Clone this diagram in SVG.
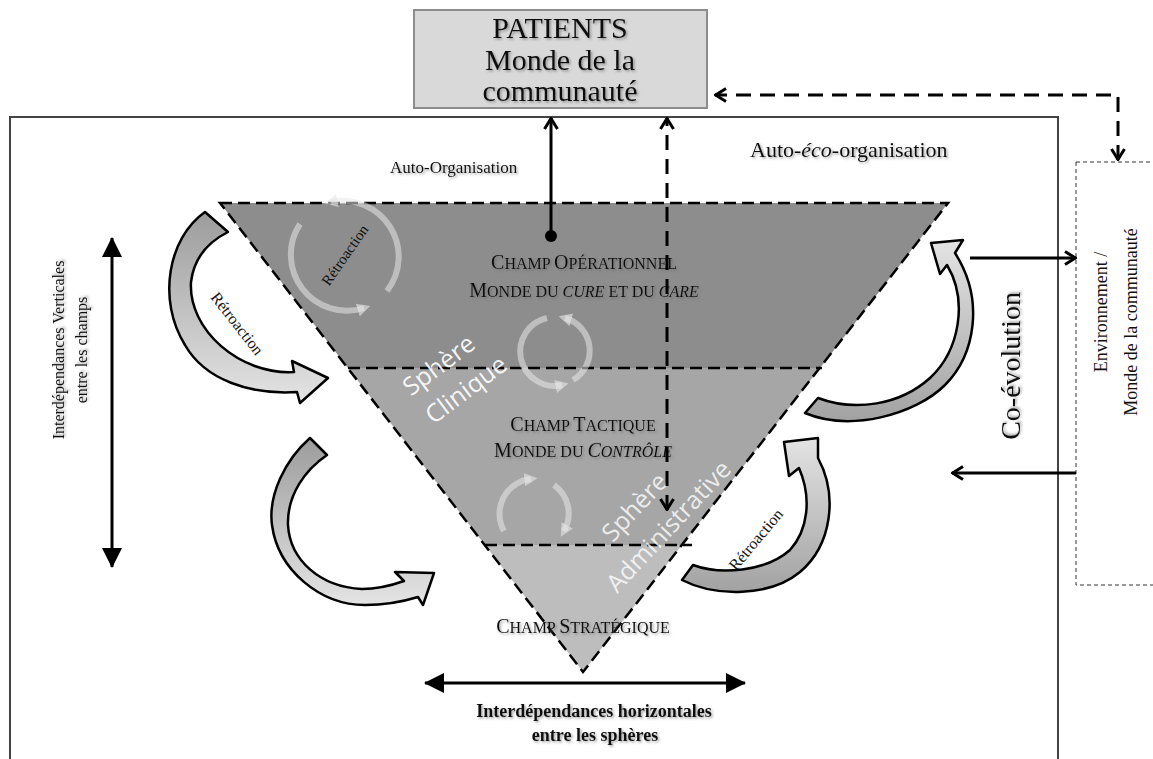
<svg xmlns="http://www.w3.org/2000/svg" width="1153" height="759" viewBox="0 0 1153 759">
<defs>
<style>
.s{font-family:"Liberation Serif","Times New Roman",serif;fill:#111}
.sans{font-family:"Open Sans","Noto Sans",sans-serif;fill:#fff}
.dash{fill:none;stroke:#000;stroke-width:2.5;stroke-dasharray:12 6}
.blk{stroke:#000;stroke-width:2.5;stroke-linejoin:round}
.cyc{fill:none;stroke:#e8e8e8;stroke-width:6;stroke-opacity:0.55;marker-end:url(#cyh)}
.con{fill:none;stroke:#000;stroke-width:3}
.cond{fill:none;stroke:#000;stroke-width:3;stroke-dasharray:15 9}
.sh{filter:url(#sh)}
</style>
<filter id="sh" x="-10%" y="-40%" width="130%" height="180%">
<feDropShadow dx="1.5" dy="1.5" stdDeviation="1" flood-color="#555" flood-opacity="0.55"/>
</filter>
<linearGradient id="gDown" x1="0" y1="0" x2="0" y2="1"><stop offset="0" stop-color="#9c9c9c"/><stop offset="1" stop-color="#e4e4e4"/></linearGradient>
<linearGradient id="gUp" x1="0" y1="1" x2="0" y2="0"><stop offset="0" stop-color="#a2a2a2"/><stop offset="1" stop-color="#e4e4e4"/></linearGradient>
<marker id="chev" viewBox="0 0 14 16" refX="13" refY="8" markerWidth="14" markerHeight="16" markerUnits="userSpaceOnUse" orient="auto-start-reverse">
<path d="M2,1.5 L12.5,8 L2,14.5" fill="none" stroke="#000" stroke-width="3" stroke-dasharray="none"/>
</marker>
<marker id="tri" viewBox="0 0 20 20" refX="19" refY="10" markerWidth="20" markerHeight="20" markerUnits="userSpaceOnUse" orient="auto-start-reverse">
<path d="M0,0 L20,10 L0,20 z" fill="#000"/>
</marker>
<marker id="cyh" viewBox="0 0 10 10" refX="5" refY="5" markerWidth="2.2" markerHeight="2.2" orient="auto">
<path d="M0,0 L10,5 L0,10 z" fill="#e8e8e8" fill-opacity="0.6"/>
</marker>
</defs>

<rect width="1153" height="759" fill="#fff"/>

<g id="frame">
<path d="M10,775 L10,117 L1058,117 L1058,775" fill="none" stroke="#444" stroke-width="2"/>
</g>

<g id="patients">
<rect x="414" y="10" width="293" height="98" fill="#d9d9d9" stroke="#8c8c8c" stroke-width="2"/>
<text class="s sh" x="560" y="38" font-size="30" text-anchor="middle">PATIENTS</text>
<text class="s sh" x="560" y="70" font-size="30" text-anchor="middle">Monde de la</text>
<text class="s sh" x="560" y="101" font-size="30" text-anchor="middle">communauté</text>
</g>

<g id="environnement">
<rect x="1076" y="162" width="90" height="423" fill="#fff" stroke="#333" stroke-width="1" stroke-dasharray="4 3"/>
<g transform="translate(1107,318) rotate(-90)">
<text class="s" x="6" y="0" font-size="18" text-anchor="middle">Environnement /</text>
<text class="s" x="-4" y="30" font-size="18" text-anchor="middle">Monde de la communauté</text>
</g>
</g>

<g id="triangle">
<polygon points="220,203 948,203 820,368 348,368" fill="#8d8d8d"/>
<polygon points="348,368 820,368 682,545 485,545" fill="#a6a6a6"/>
<polygon points="485,545 682,545 583,672" fill="#bdbdbd"/>
<polygon class="dash" points="220,203 948,203 583,672"/>
<line class="dash" x1="348" y1="368" x2="822" y2="368"/>
<line class="dash" x1="485" y1="545" x2="692" y2="545"/>
</g>

<g id="cycles">
<path class="cyc" d="M387,291 A56,56 0 0 0 331,202"/>
<path class="cyc" d="M300,224 A56,56 0 0 0 364,308"/>
<path class="cyc" d="M547,318 A34,34 0 0 0 562,385"/>
<path class="cyc" d="M573,380 A34,34 0 0 0 565,318"/>
<path class="cyc" d="M504,531 A35,35 0 0 1 531,479"/>
<path class="cyc" d="M554,485 A35,35 0 0 1 564,531"/>
<text class="s" transform="translate(349,258) rotate(-55)" font-size="15" text-anchor="middle" fill="#222">Rétroaction</text>
</g>

<g id="champ-operationnel">
<text class="s sh" x="584" y="269" text-anchor="middle"><tspan font-size="20">C</tspan><tspan font-size="16">HAMP </tspan><tspan font-size="20">O</tspan><tspan font-size="16">PÉRATIONNEL</tspan></text>
<text class="s sh" x="584" y="297" text-anchor="middle"><tspan font-size="20">M</tspan><tspan font-size="16">ONDE DU </tspan><tspan font-size="16" font-style="italic">CURE</tspan><tspan font-size="16"> ET DU </tspan><tspan font-size="16" font-style="italic">CARE</tspan></text>
</g>

<g id="champ-tactique">
<text class="s sh" x="583" y="431" text-anchor="middle"><tspan font-size="20">C</tspan><tspan font-size="16">HAMP </tspan><tspan font-size="20">T</tspan><tspan font-size="16">ACTIQUE</tspan></text>
<text class="s sh" x="583" y="457" text-anchor="middle"><tspan font-size="20">M</tspan><tspan font-size="16">ONDE DU </tspan><tspan font-size="20" font-style="italic">C</tspan><tspan font-size="16" font-style="italic">ONTRÔLE</tspan></text>
</g>

<g id="champ-strategique">
<text class="s sh" x="583" y="633" text-anchor="middle"><tspan font-size="20">C</tspan><tspan font-size="16">HAMP </tspan><tspan font-size="20">S</tspan><tspan font-size="16">TRATÉGIQUE</tspan></text>
</g>

<g id="sphere-clinique" transform="translate(444,372) rotate(-37)">
<text class="sans" x="0" y="0" font-size="25" text-anchor="middle" fill-opacity="0.92">Sphère</text>
<text class="sans" x="7" y="36" font-size="25" text-anchor="middle" fill-opacity="0.92">Clinique</text>
</g>

<g id="sphere-administrative" transform="translate(641,513) rotate(-47)">
<text class="sans" x="0" y="0" font-size="25" text-anchor="middle" fill-opacity="0.8">Sphère</text>
<text class="sans" x="9" y="38" font-size="25" text-anchor="middle" fill-opacity="0.8">Administrative</text>
</g>

<g id="retroaction-arrows">
<path class="blk" fill="url(#gDown)" d="M205,212 C168,238 157,300 185,345 C205,380 250,395 297,392 L300,403 L328,378 L292,361 L294,372 C240,375 188,330 191,282 C194,257 210,241 228,232 Z"/>
<path class="blk" fill="url(#gDown)" d="M310,438 C285,460 268,495 272,525 C278,570 320,605 365,605 C385,605 405,601 418,597 L423,605 L434,573 L395,572 L404,581 C390,586 375,589 362,589 C320,587 290,560 288,525 C287,495 305,470 327,455 Z"/>
<path class="blk" fill="url(#gUp)" d="M805,413 C850,432 915,415 945,385 C975,355 985,300 955,253 L963,240 L931,243 L940,274 L947,265 C968,300 960,350 930,378 C900,405 855,412 818,398 Z"/>
<path class="blk" fill="url(#gUp)" d="M682,580 C715,597 770,597 800,572 C832,545 838,495 818,458 L818,438 L784,442 L789,476 L799,468 C812,498 808,530 790,550 C765,572 720,575 693,565 Z"/>
<text class="s" transform="translate(233,327) rotate(52)" font-size="16" text-anchor="middle">Rétroaction</text>
<text class="s" transform="translate(760,543) rotate(-50)" font-size="16" text-anchor="middle">Rétroaction</text>
</g>

<g id="labels">
<text class="s sh" x="390" y="173" font-size="17">Auto-Organisation</text>
<text class="s sh" x="750" y="157" font-size="22">Auto-<tspan font-style="italic">éco</tspan>-organisation</text>
<g transform="translate(64,350) rotate(-90)">
<text class="s sh" x="0" y="0" font-size="16" text-anchor="middle">Interdépendances Verticales</text>
<text class="s sh" x="0" y="23" font-size="16" text-anchor="middle">entre les champs</text>
</g>
<text class="s sh" x="594" y="717" font-size="18" font-weight="bold" text-anchor="middle">Interdépendances horizontales</text>
<text class="s sh" x="595" y="741" font-size="18" font-weight="bold" text-anchor="middle">entre les sphères</text>
<text class="s sh" transform="translate(1020,366) rotate(-90)" font-size="28" text-anchor="middle">Co-évolution</text>
</g>

<g id="connectors">
<circle cx="551" cy="236" r="6" fill="#000"/>
<path class="con" d="M551,236 L551,118" marker-end="url(#chev)"/>
<path class="cond" d="M667,510 L667,118" marker-start="url(#chev)" marker-end="url(#chev)"/>
<path class="cond" d="M1118,160 L1118,95 L715,95" marker-start="url(#chev)" marker-end="url(#chev)"/>
<path class="con" d="M970,258 L1076,258" marker-end="url(#chev)"/>
<path class="con" d="M1076,473 L952,473" marker-end="url(#chev)"/>
<path class="con" d="M112,238 L112,567" marker-start="url(#tri)" marker-end="url(#tri)"/>
<path class="con" d="M425,683 L745,683" marker-start="url(#tri)" marker-end="url(#tri)"/>
</g>
</svg>
